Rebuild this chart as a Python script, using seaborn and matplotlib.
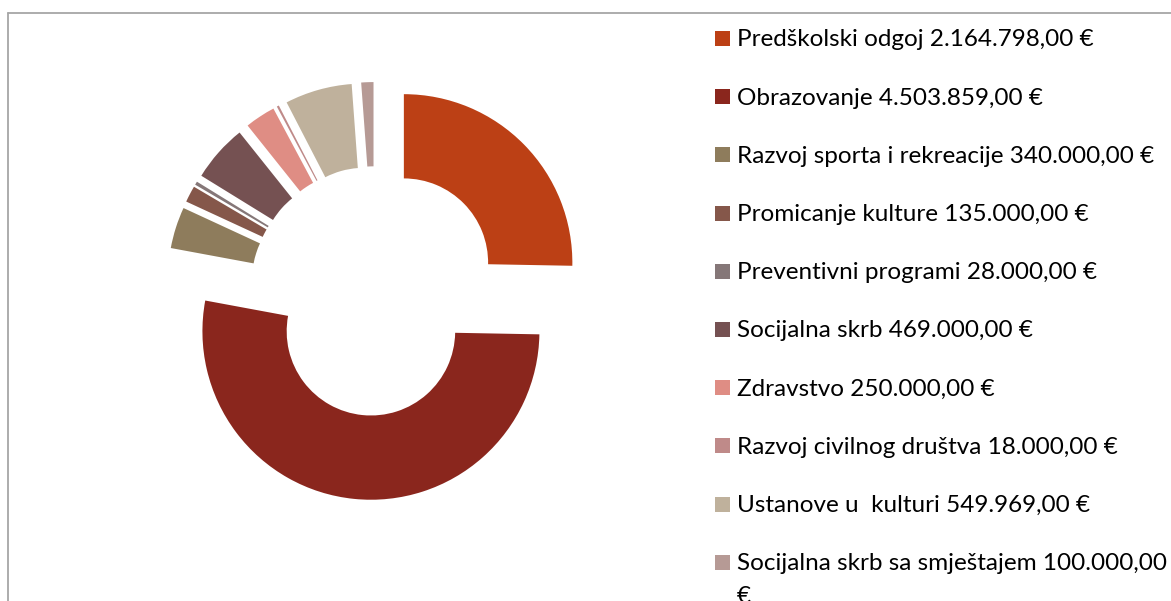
import matplotlib
matplotlib.use("Agg")
import matplotlib.pyplot as plt
from matplotlib.patches import Rectangle
from matplotlib.lines import Line2D
import seaborn as sns

categories = [
    "Predškolski odgoj",
    "Obrazovanje",
    "Razvoj sporta i rekreacije",
    "Promicanje kulture",
    "Preventivni programi",
    "Socijalna skrb",
    "Zdravstvo",
    "Razvoj civilnog društva",
    "Ustanove u  kulturi",
    "Socijalna skrb sa smještajem",
]
values = [2164798.00, 4503859.00, 340000.00, 135000.00, 28000.00,
          469000.00, 250000.00, 18000.00, 549969.00, 100000.00]
colors = ["#BC4015", "#8A261D", "#8E7C5C", "#85574A", "#857778",
          "#755152", "#DF8D84", "#BF8A89", "#BFB19C", "#B69A95"]


def fmt_eur(v):
    s = f"{v:,.2f}"
    s = s.replace(",", "X").replace(".", ",").replace("X", ".")
    return s + " €"


labels = [f"{c} {fmt_eur(v)}" for c, v in zip(categories, values)]
labels[-1] = f"{categories[-1]} {fmt_eur(values[-1])[:-2]}\n€"

sns.set_theme(style="white")
plt.rcParams["font.family"] = ["Lato", "DejaVu Sans"]
palette = sns.color_palette(colors)

W, H = 1171, 601
fig = plt.figure(figsize=(W / 100, H / 100), dpi=100)
ax = fig.add_axes([0, 0, 1, 1])

R = 168.5
cx, cy = 375, 291
ax.pie(values, colors=palette, startangle=90, counterclock=False,
       explode=[0.24] * len(values), radius=1.0,
       wedgeprops=dict(width=0.5, linewidth=0))
ax.set_xlim(-cx / R, (W - cx) / R)
ax.set_ylim(-(H - cy) / R, cy / R)
ax.set_aspect("auto")
ax.axis("off")

# chart-area border (top and left visible)
fig.add_artist(Line2D([8 / W, 1], [1 - 13 / H] * 2, transform=fig.transFigure,
                      color="#A6A6A6", lw=1.3))
fig.add_artist(Line2D([8 / W] * 2, [0, 1 - 13 / H], transform=fig.transFigure,
                      color="#A6A6A6", lw=1.3))

# legend
pitch = 32.5
row_y = [38.5 + 58.2 * i for i in range(len(labels))]
for lab, col, y in zip(labels, palette, row_y):
    fig.add_artist(Rectangle((715 / W, 1 - (y + 7.5) / H), 15 / W, 15 / H,
                             transform=fig.transFigure, color=col, lw=0))
    extra = lab.count("\n") * pitch
    fig.text(737 / W, 1 - (y + 8 + extra) / H, lab, fontsize=17.5,
             va="baseline", ha="left", color="#000000", linespacing=1.7)

fig.savefig("out.png", dpi=100)
